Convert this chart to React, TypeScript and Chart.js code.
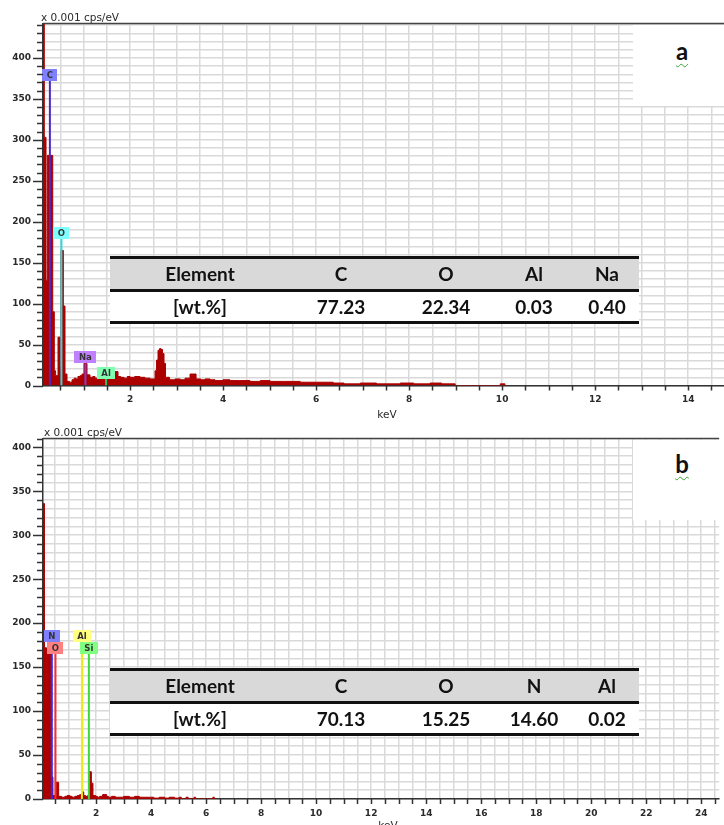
import React, { useEffect, useRef } from 'react';
import { Chart, registerables } from 'chart.js';

Chart.register(...registerables);

// ---------- Spectrum (a) ----------
const specA_keV = [0.12, 0.157, 0.194, 0.222, 0.338, 0.372, 0.4, 0.452, 0.495, 0.516, 0.566, 0.602, 0.645, 0.7, 0.753, 0.8, 0.839, 0.88, 0.925, 0.968, 1.011, 1.075, 1.14, 1.2, 1.247, 1.3, 1.355, 1.41, 1.462, 1.52, 1.57, 1.656, 1.742, 1.8, 1.871, 1.94, 2.0, 2.1, 2.215, 2.32, 2.43, 2.538, 2.57, 2.602, 2.634, 2.667, 2.699, 2.731, 2.763, 2.85, 2.968, 3.08, 3.183, 3.29, 3.42, 3.52, 3.613, 3.72, 3.828, 4.0, 4.15, 4.35, 4.58, 4.8, 5.01, 5.3, 5.66, 6.0, 6.37, 6.6, 6.95, 7.3, 7.81, 8.1, 8.45, 8.7, 8.99, 9.3, 9.74, 9.96, 10.06, 10.1];
const specA_cps = [470, 303, 128, 281, 90, 18, 12, 59, 22, 165, 97, 14, 5, 4, 7, 9, 8, 11, 12, 14, 27, 13, 10, 11, 9, 12, 11, 12, 10, 13, 16, 17, 11, 10, 9, 11, 10, 11, 10, 9, 8, 18, 31, 43, 45, 44, 39, 27, 10, 7, 8, 7, 9, 14, 8, 7, 8, 7, 6, 7, 6, 6, 5, 6, 5, 5, 4, 4, 3, 2, 3, 2, 3, 2, 3, 2, 0, 0, 0, 2, 0, 0];

const markA_names = ['C', 'O', 'Na', 'Al'];
const markA_keV = [0.277, 0.525, 1.041, 1.486];
const markA_top = [372, 179, 27, 8];
const markA_row = [0, 0, 0, 0];
const markA_line = ['#4a2bc4', '#30d8d8', '#8a3cc8', '#2ec46a'];
const markA_box = ['#8080ff', '#80ffff', '#c080ff', '#80ffb0'];

// ---------- Spectrum (b) ----------
const specB_keV = [0.06, 0.126, 0.199, 0.235, 0.361, 0.433, 0.55, 0.64, 0.75, 0.866, 0.95, 1.047, 1.13, 1.227, 1.32, 1.408, 1.48, 1.552, 1.62, 1.697, 1.744, 1.83, 1.888, 1.986, 2.05, 2.13, 2.238, 2.383, 2.45, 2.563, 2.7, 2.852, 3.0, 3.213, 3.4, 3.574, 3.75, 3.935, 4.1, 4.296, 4.5, 4.657, 4.85, 5.018, 5.1, 5.27, 5.35, 5.56, 5.62, 6.245, 6.3];
const specB_cps = [336, 172, 120, 165, 25, 4, 19, 3, 2, 3, 4, 3, 2, 3, 4, 5, 8, 4, 3, 4, 31, 18, 4, 3, 2, 3, 5, 3, 2, 3, 2, 2, 3, 2, 3, 2, 2, 2, 1, 2, 1, 2, 1, 2, 0, 2, 0, 2, 0, 2, 0];

const markB_names = ['N', 'O', 'Al', 'Si'];
const markB_keV = [0.392, 0.525, 1.486, 1.739];
const markB_top = [165, 165, 165, 165];
const markB_row = [1, 0, 1, 0];
const markB_line = ['#2a2aff', '#ff2a2a', '#eeee10', '#3cd83c'];
const markB_box = ['#8080ff', '#ff8080', '#ffff80', '#80ff80'];

// ---------- Axes ----------
const yTickLabels = [0, 50, 100, 150, 200, 250, 300, 350, 400];
const xTickLabelsA = [2, 4, 6, 8, 10, 12, 14];
const xTickLabelsB = [2, 4, 6, 8, 10, 12, 14, 16, 18, 20, 22, 24];

// ---------- Tables ----------
const tableA_head = ['Element', 'C', 'O', 'Al', 'Na'];
const tableA_vals = ['[wt.%]', '77.23', '22.34', '0.03', '0.40'];
const tableB_head = ['Element', 'C', 'O', 'N', 'Al'];
const tableB_vals = ['[wt.%]', '70.13', '15.25', '14.60', '0.02'];

const decorPlugin = {
  id: 'decor',
  afterDatasetsDraw(chart: any, _args: any, opts: any) {
    const { ctx, scales } = chart;
    const x = scales.x;
    const y = scales.y;
    ctx.save();
    ctx.font = 'bold 8.5px "DejaVu Sans"';
    (opts.markers || []).forEach((m: any) => {
      const px = x.getPixelForValue(m.keV);
      const py = y.getPixelForValue(m.top) - m.row * 12;
      const tw = ctx.measureText(m.name).width;
      const w = Math.max(tw + 9, 15);
      ctx.fillStyle = m.box;
      ctx.fillRect(Math.round(px - w / 2), Math.round(py - 12), Math.round(w), 12);
      ctx.fillStyle = '#333';
      ctx.textAlign = 'center';
      ctx.textBaseline = 'middle';
      ctx.fillText(m.name, px, py - 5.5);
    });
    ctx.restore();
  },
  afterDraw(chart: any) {
    const { ctx, chartArea: ca, scales } = chart;
    const x = scales.x;
    const y = scales.y;
    ctx.save();
    ctx.strokeStyle = '#333';
    ctx.lineWidth = 1.5;
    ctx.beginPath();
    y.ticks.forEach((t: any) => {
      const py = Math.round(y.getPixelForValue(t.value)) + 0.5;
      const len = t.value % 50 === 0 ? 10 : 6;
      ctx.moveTo(ca.left - len, py);
      ctx.lineTo(ca.left, py);
    });
    x.ticks.forEach((t: any) => {
      const px = Math.round(x.getPixelForValue(t.value)) + 0.5;
      ctx.moveTo(px, ca.bottom);
      ctx.lineTo(px, ca.bottom + 5);
    });
    ctx.stroke();
    ctx.strokeStyle = '#444';
    ctx.beginPath();
    ctx.moveTo(ca.left, ca.top);
    ctx.lineTo(ca.right, ca.top);
    ctx.stroke();
    ctx.restore();
  },
};

function makeConfig(p: any) {
  const markers = p.names.map((n: string, i: number) => ({
    name: n, keV: p.mkeV[i], top: p.mtop[i], row: p.mrow[i], box: p.mbox[i],
  }));
  const markerSets = p.names.map((n: string, i: number) => ({
    label: n,
    data: [{ x: p.mkeV[i], y: 0 }, { x: p.mkeV[i], y: p.mtop[i] }],
    borderColor: p.mline[i],
    borderWidth: 2,
    pointRadius: 0,
    fill: false,
  }));
  const spec = {
    label: 'spectrum',
    data: p.keV.map((k: number, i: number) => ({ x: k, y: p.cps[i] })),
    stepped: true,
    fill: 'origin',
    backgroundColor: '#ac0000',
    borderColor: '#ac0000',
    borderWidth: 1,
    pointRadius: 0,
  };
  const xTicks: number[] = [];
  for (let v = 0.5; v <= p.xMax; v += 0.5) if (v >= p.xMin) xTicks.push(v);
  const yTicks: number[] = [];
  for (let v = 0; v <= p.yMax; v += 10) yTicks.push(v);
  return {
    type: 'line',
    data: { datasets: [...markerSets, spec] },
    plugins: [decorPlugin],
    options: {
      animation: false,
      responsive: false,
      devicePixelRatio: 1,
      events: [],
      layout: { padding: { top: p.top, left: 0, right: 0, bottom: 0 } },
      plugins: {
        legend: { display: false },
        tooltip: { enabled: false },
        decor: { markers },
      },
      scales: {
        x: {
          type: 'linear',
          min: p.xMin,
          max: p.xMax,
          afterBuildTicks: (s: any) => { s.ticks = xTicks.map((v) => ({ value: v })); },
          afterFit: (s: any) => { s.height = p.xH; },
          grid: { color: '#d9d9d9', lineWidth: 1.5, drawTicks: false },
          border: { display: true, color: '#333', width: 1.5 },
          ticks: {
            padding: 9,
            autoSkip: false,
            maxRotation: 0,
            color: '#2a2a2a',
            font: { family: '"DejaVu Sans"', size: 9, weight: 'bold' },
            callback: (v: number) => (p.xLabels.includes(Math.round(v * 2) / 2) ? String(Math.round(v)) : ''),
          },
        },
        y: {
          type: 'linear',
          min: 0,
          max: p.yMax,
          afterBuildTicks: (s: any) => { s.ticks = yTicks.map((v) => ({ value: v })); },
          afterFit: (s: any) => { s.width = 43; },
          grid: { color: '#d9d9d9', lineWidth: 1.5, drawTicks: false },
          border: { display: true, color: '#333', width: 1.5 },
          ticks: {
            padding: 12,
            autoSkip: false,
            color: '#2a2a2a',
            font: { family: '"DejaVu Sans"', size: 9, weight: 'bold' },
            callback: (v: number) => (yTickLabels.includes(v) ? String(v) : ''),
          },
        },
      },
    },
  };
}

function Spectrum(props: any) {
  const ref = useRef<HTMLCanvasElement>(null);
  useEffect(() => {
    const c = new Chart(ref.current as HTMLCanvasElement, makeConfig(props.cfg) as any);
    return () => c.destroy();
  }, []);
  return (
    <canvas
      ref={ref}
      width={724}
      height={props.h}
      style={{ position: 'absolute', left: 0, top: props.top, width: 724, height: props.h }}
    />
  );
}

function Table(props: { top: number; head: string[]; vals: string[] }) {
  const centers = [90, 231, 336, 424, 497];
  const font = { fontFamily: 'Lato, "Open Sans", sans-serif', fontWeight: 700, fontSize: 19, color: '#111' };
  const cells = (arr: string[], h: number) =>
    arr.map((t, i) => (
      <div key={i} style={{ position: 'absolute', left: centers[i] - 60, width: 120, top: 0, height: h, lineHeight: h + 'px', textAlign: 'center', ...font }}>
        {t}
      </div>
    ));
  return (
    <div style={{ position: 'absolute', left: 110, top: props.top, width: 529 }}>
      <div style={{ position: 'relative', height: 30, background: '#d9d9d9', borderTop: '3px solid #111', borderBottom: '3px solid #111' }}>
        {cells(props.head, 30)}
      </div>
      <div style={{ position: 'relative', height: 29, background: '#fff', borderBottom: '3px solid #111' }}>
        {cells(props.vals, 29)}
      </div>
    </div>
  );
}

const small = { position: 'absolute' as const, fontFamily: '"DejaVu Sans", sans-serif', fontSize: 10.5, color: '#2a2a2a', lineHeight: '12px', whiteSpace: 'nowrap' as const };
const letter = {
  position: 'absolute' as const,
  fontFamily: 'Lato, sans-serif',
  fontWeight: 700,
  fontSize: 24,
  color: '#111',
  lineHeight: '28px',
  textDecoration: 'underline wavy #3aa23a',
  textDecorationThickness: '1px',
  textUnderlineOffset: '3px',
  width: 40,
  textAlign: 'center' as const,
};

export default function App() {
  const cfgA = {
    keV: specA_keV, cps: specA_cps, names: markA_names, mkeV: markA_keV, mtop: markA_top, mrow: markA_row,
    mline: markA_line, mbox: markA_box, xMin: 0.129, xMax: 14.77, yMax: 442, top: 23.5, xH: 32.5, xLabels: xTickLabelsA,
  };
  const cfgB = {
    keV: specB_keV, cps: specB_cps, names: markB_names, mkeV: markB_keV, mtop: markB_top, mrow: markB_row,
    mline: markB_line, mbox: markB_box, xMin: 0.072, xMax: 24.65, yMax: 410, top: 20.5, xH: 26, xLabels: xTickLabelsB,
  };
  return (
    <div style={{ position: 'absolute', left: 0, top: 0, width: 724, height: 825, overflow: 'hidden', background: '#fff' }}>
      <Spectrum cfg={cfgA} top={0} h={418} />
      <Spectrum cfg={cfgB} top={418} h={407} />
      <div style={{ position: 'absolute', left: 633, top: 25, width: 91, height: 81, background: '#fff' }} />
      <div style={{ position: 'absolute', left: 633, top: 440, width: 91, height: 80, background: '#fff' }} />
      <div style={{ ...letter, left: 662, top: 37 }}>a</div>
      <div style={{ ...letter, left: 662, top: 450 }}>b</div>
      <div style={{ ...small, left: 41, top: 10.5 }}>x 0.001 cps/eV</div>
      <div style={{ ...small, left: 44, top: 425.5 }}>x 0.001 cps/eV</div>
      <div style={{ ...small, left: 367, width: 40, textAlign: 'center', top: 407.5 }}>keV</div>
      <div style={{ ...small, left: 368, width: 40, textAlign: 'center', top: 819 }}>keV</div>
      <Table top={256} head={tableA_head} vals={tableA_vals} />
      <Table top={668} head={tableB_head} vals={tableB_vals} />
    </div>
  );
}
